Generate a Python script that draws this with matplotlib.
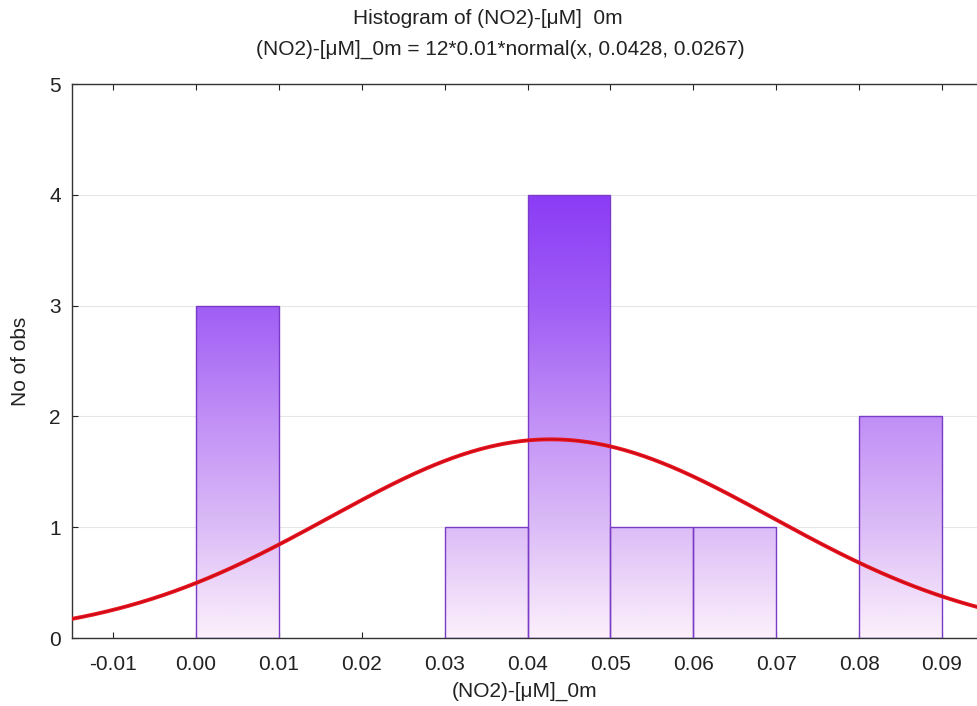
import numpy as np
import matplotlib
matplotlib.use("Agg")
import matplotlib.pyplot as plt
from matplotlib.colors import LinearSegmentedColormap

plt.rcParams['font.family'] = ['Liberation Sans', 'DejaVu Sans']

bin_edges = [0.00, 0.01, 0.02, 0.03, 0.04, 0.05, 0.06, 0.07, 0.08, 0.09]
counts = [3, 0, 0, 1, 4, 1, 1, 0, 2]
n_obs = 12
bin_width = 0.01
mu = 0.0428
sigma = 0.0267
xticks = [-0.01, 0.00, 0.01, 0.02, 0.03, 0.04, 0.05, 0.06, 0.07, 0.08, 0.09]
yticks = [0, 1, 2, 3, 4, 5]

fig = plt.figure(figsize=(9.78, 7.06), dpi=100)
ax = fig.add_axes([72/978, 1-638/706, (978-72)/978, (638-84)/706])
XL = (-0.01496, 0.09434)
ax.set_xlim(*XL)
ax.set_ylim(0, 5)

cmap = LinearSegmentedColormap.from_list(
    "pv", ["#fcf0fb", "#dcbcf7", "#c08ef6", "#a05df5", "#8a3cf5"])
grad = np.linspace(0, 1, 256).reshape(-1, 1)

for i, c in enumerate(counts):
    if c <= 0:
        continue
    x0 = bin_edges[i]
    bar = ax.bar(x0, c, width=bin_width, align='edge', facecolor='none',
                 edgecolor='#7a3cc8', linewidth=1.0, zorder=3)[0]
    im = ax.imshow(grad, extent=(x0, x0 + bin_width, 0, 4.0), origin='lower',
                   aspect='auto', cmap=cmap, zorder=2, interpolation='bilinear')
    im.set_clip_path(bar)

ax.set_xlim(*XL)
ax.set_ylim(0, 5)

xs = np.linspace(XL[0], XL[1], 400)
ys = n_obs * bin_width * np.exp(-0.5 * ((xs - mu) / sigma) ** 2) / (sigma * np.sqrt(2 * np.pi))
ax.plot(xs, ys, color='#e8141e', linewidth=2.8, zorder=4)
ax.plot(xs, ys, color='#a00010', linewidth=0.8, alpha=0.5, zorder=4)

ax.set_xticks(xticks)
ax.set_xticklabels([f"{t:.2f}" for t in xticks])
ax.set_yticks(yticks)
ax.yaxis.grid(True, color='#e6e6e6', linewidth=0.8, zorder=0)
ax.set_axisbelow(True)
ax.tick_params(direction='in', length=4, labelsize=15, colors='#222222', pad=12)
ax.tick_params(axis='y', pad=8)
ax.tick_params(top=True, labeltop=False)
ax.spines['right'].set_visible(False)
for s in ['left', 'bottom', 'top']:
    ax.spines[s].set_color('#333333')
    ax.spines[s].set_linewidth(1.0)

ax.set_xlabel("(NO2)-[μM]_0m", fontsize=15, labelpad=6, color='#222222')
ax.set_ylabel("No of obs", fontsize=15, labelpad=14, color='#222222')
fig.text(0.499, 1-19/706, "Histogram of (NO2)-[μM]  0m", ha='center', va='center', fontsize=15, color='#222222')
fig.text(0.512, 1-49/706, "(NO2)-[μM]_0m = 12*0.01*normal(x, 0.0428, 0.0267)", ha='center', va='center', fontsize=15, color='#222222')

fig.savefig("out.png", dpi=100)
